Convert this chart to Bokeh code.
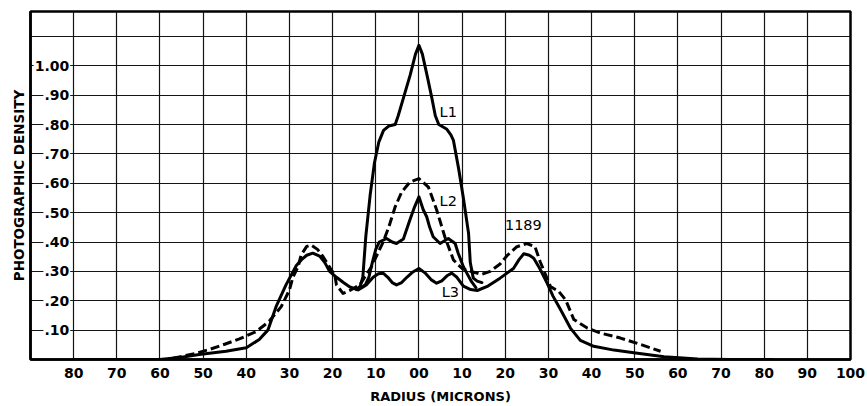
from bokeh.plotting import figure
from bokeh.models import FixedTicker, Range1d
from bokeh.core.properties import value
from bokeh.embed import file_html
from bokeh.resources import INLINE

# ---------------- data ----------------
x_ticks = [-80, -70, -60, -50, -40, -30, -20, -10, 0, 10, 20, 30, 40, 50, 60, 70, 80, 90, 100]
x_tick_labels = ["80", "70", "60", "50", "40", "30", "20", "10", "00", "10",
                 "20", "30", "40", "50", "60", "70", "80", "90", "100"]
y_ticks = [0.1, 0.2, 0.3, 0.4, 0.5, 0.6, 0.7, 0.8, 0.9, 1.0]
y_tick_labels = [".10", ".20", ".30", ".40", ".50", ".60", ".70", ".80", ".90", "1.00"]
y_grid = [0.1, 0.2, 0.3, 0.4, 0.5, 0.6, 0.7, 0.8, 0.9, 1.0, 1.1]

# L3 : full solid profile (shared wings)
l3_x = [-80, -70, -60, -55, -50.9, -44.7, -40, -37, -35, -33.1, -30.8, -28.4, -27.2, -26,
        -24.6, -23, -21.8, -20.7, -19.1, -17.5, -16, -14.1, -12.2, -10.6, -9.4, -8.3, -7.2,
        -6.2, -5.2, -4, -2.8, -1.4, 0, 1.4, 2.8, 4.1, 5.3, 6.5, 7.6, 8.8, 10.3, 12, 13.5,
        16, 18.8, 20.5, 21.9, 23.2, 24.3, 25.6, 26.6, 28, 29.7, 31.1, 32.8, 35.1, 37.4,
        40.5, 45.2, 49.8, 56.8, 64.6, 72, 82]
l3_y = [0.0, 0.0, 0.0, 0.008, 0.017, 0.028, 0.04, 0.068, 0.10, 0.18, 0.254, 0.32, 0.34, 0.355,
        0.362, 0.352, 0.33, 0.30, 0.28, 0.262, 0.247, 0.237, 0.254, 0.28, 0.292, 0.294, 0.28,
        0.262, 0.254, 0.262, 0.28, 0.298, 0.31, 0.295, 0.272, 0.26, 0.268, 0.285, 0.294,
        0.28, 0.25, 0.238, 0.235, 0.25, 0.277, 0.295, 0.31, 0.34, 0.36, 0.355, 0.345, 0.31,
        0.26, 0.215, 0.17, 0.107, 0.065, 0.045, 0.032, 0.023, 0.009, 0.002, 0.0, 0.0]

# L1 : tall central profile
l1_x = [-14.5, -13.6, -13.0, -12.3, -11.3, -10.3, -9.3, -8.2, -7.0, -5.5, -4.8, -3.6, -2.0,
        -0.8, 0, 0.8, 2.0, 3.0, 3.8, 4.6, 6.4, 7.4, 8.0, 9.2, 10.3, 11.5, 11.9, 12.6, 13.5, 14.6]
l1_y = [0.238, 0.25, 0.28, 0.42, 0.56, 0.67, 0.74, 0.78, 0.795, 0.80, 0.83, 0.89, 0.97,
        1.04, 1.07, 1.04, 0.96, 0.89, 0.83, 0.80, 0.785, 0.765, 0.746, 0.65, 0.55, 0.43,
        0.33, 0.277, 0.267, 0.262]

# L2 : middle central profile
l2_x = [-13.3, -12.4, -11.6, -10.8, -10.0, -9.2, -7.5, -6.2, -5.2, -3.6, -2.1, -1.0, 0,
        1.0, 1.8, 2.5, 3.3, 4.9, 6.8, 8.4, 9.1, 10.3, 11.1, 12.2, 13.2]
l2_y = [0.245, 0.255, 0.28, 0.33, 0.375, 0.40, 0.412, 0.40, 0.395, 0.41, 0.475, 0.52, 0.554,
        0.51, 0.486, 0.45, 0.418, 0.395, 0.412, 0.395, 0.362, 0.316, 0.294, 0.265, 0.245]

# 1189 : dashed profile
d_x = [-57, -52, -48.6, -45, -41.6, -37.7, -34.7, -31.9, -30, -29.2, -28, -27.3, -26, -25,
       -23.5, -22.2, -20.5, -19.5, -19.1, -17.6, -16, -13.7, -11, -8.3, -7, -5.5, -4, -2.1,
       0, 2.2, 4.1, 6, 8, 10, 12, 14.5, 16.5, 18.8, 20.5, 22.7, 25, 26.9, 28.1, 30.5, 32.4,
       34, 35.9, 39, 42.1, 46.7, 51.4, 56]
d_y = [0.004, 0.02, 0.034, 0.052, 0.07, 0.095, 0.13, 0.18, 0.237, 0.28, 0.316, 0.356, 0.385,
       0.39, 0.375, 0.35, 0.31, 0.288, 0.254, 0.225, 0.235, 0.254, 0.316, 0.40, 0.45, 0.52,
       0.57, 0.604, 0.616, 0.587, 0.51, 0.418, 0.339, 0.31, 0.30, 0.29, 0.30, 0.325, 0.355,
       0.384, 0.395, 0.384, 0.333, 0.248, 0.232, 0.203, 0.136, 0.107, 0.09, 0.073, 0.051, 0.028]

curve_names = ["L1", "L2", "L3", "1189"]

# ---------------- figure ----------------
FONT = value("DejaVu Sans")

p = figure(width=866, height=406, x_range=Range1d(-90, 100), y_range=Range1d(0, 1.185),
           output_backend="svg", toolbar_location=None,
           min_border_left=30, min_border_right=16, min_border_top=11, min_border_bottom=0)
p.background_fill_color = "white"
p.border_fill_color = "white"
p.outline_line_color = "black"
p.outline_line_width = 2.5

# grids
p.xgrid.ticker = FixedTicker(ticks=x_ticks)
p.ygrid.ticker = FixedTicker(ticks=y_grid)
for g in (p.xgrid, p.ygrid):
    g.grid_line_color = "#141414"
    g.grid_line_width = 1.2

# x axis
xa = p.xaxis[0]
xa.ticker = FixedTicker(ticks=x_ticks)
xa.major_label_overrides = {t: s for t, s in zip(x_ticks, x_tick_labels)}
xa.major_tick_out = 0
xa.major_tick_in = 0
xa.minor_tick_out = 0
xa.minor_tick_in = 0
xa.axis_line_width = 2.5
xa.axis_line_color = "black"
xa.major_label_standoff = 8
xa.major_label_text_font = "DejaVu Sans"
xa.major_label_text_font_style = "bold"
xa.major_label_text_font_size = "14px"
xa.major_label_text_color = "black"
xa.axis_label = "RADIUS (MICRONS)"
xa.axis_label_standoff = 8
xa.axis_label_text_font = "DejaVu Sans"
xa.axis_label_text_font_style = "bold"
xa.axis_label_text_font_size = "13px"
xa.axis_label_text_color = "black"

# y axis (title + line only, tick labels drawn inside the frame)
ya = p.yaxis[0]
ya.ticker = FixedTicker(ticks=[])
ya.major_tick_out = 0
ya.major_tick_in = 0
ya.minor_tick_out = 0
ya.minor_tick_in = 0
ya.major_label_standoff = 0
ya.axis_line_width = 2.5
ya.axis_line_color = "black"
ya.axis_label = "PHOTOGRAPHIC DENSITY"
ya.axis_label_standoff = 4
ya.axis_label_text_font = "DejaVu Sans"
ya.axis_label_text_font_style = "bold"
ya.axis_label_text_font_size = "13.5px"
ya.axis_label_text_color = "black"

# y tick labels inside the frame, masking the grid lines
p.text(x=[-80.8] * len(y_ticks), y=y_ticks, text=y_tick_labels,
       text_align="right", text_baseline="middle",
       text_font=FONT, text_font_style="bold", text_font_size="14px",
       text_color="black", background_fill_color="white", padding=1)

# curves
p.line(l3_x, l3_y, line_width=3, line_color="black", line_join="round", line_cap="round")
p.line(l2_x, l2_y, line_width=3, line_color="black", line_join="round", line_cap="round")
p.line(l1_x, l1_y, line_width=3, line_color="black", line_join="round", line_cap="round")
p.line(d_x, d_y, line_width=3, line_color="black", line_dash="9 4", line_join="round")

# curve labels
p.text(x=[6.8, 6.8, 7.3, 24.2], y=[0.842, 0.54, 0.231, 0.458], text=curve_names,
       text_align="center", text_baseline="middle",
       text_font=FONT, text_font_size="14.5px", text_color="black")

open("out.html", "w").write(file_html(p, INLINE))
